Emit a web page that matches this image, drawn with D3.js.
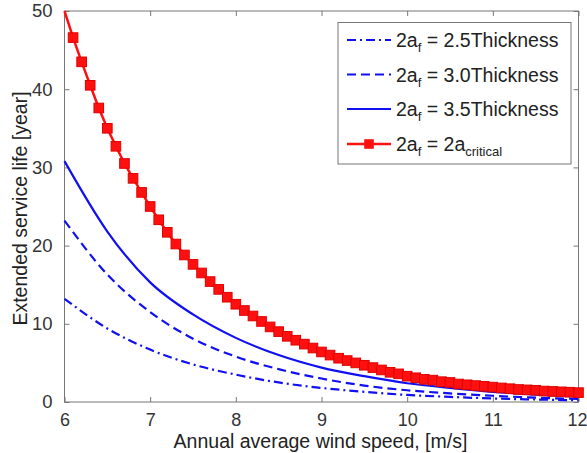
<!DOCTYPE html>
<html><head><meta charset="utf-8">
<script src="https://cdn.jsdelivr.net/npm/d3@7"></script>
<style>body{margin:0;background:#fff}svg{display:block}text{font-family:"Liberation Sans",Arial,sans-serif}</style>
</head><body><svg id="c" width="587" height="453"></svg>
<script>
const xTicks = [6,7,8,9,10,11,12];
const yTicks = [0,10,20,30,40,50];
const speedsFine = [6.0,6.1,6.2,6.3,6.4,6.5,6.6,6.7,6.8,6.9,7.0,7.1,7.2,7.3,7.4,7.5,7.6,7.7,7.8,7.9,8.0,8.1,8.2,8.3,8.4,8.5,8.6,8.7,8.8,8.9,9.0,9.1,9.2,9.3,9.4,9.5,9.6,9.7,9.8,9.9,10.0,10.1,10.2,10.3,10.4,10.5,10.6,10.7,10.8,10.9,11.0,11.1,11.2,11.3,11.4,11.5,11.6,11.7,11.8,11.9,12.0];
const lifeCritical = [50.0,46.6,43.5,40.5,37.6,35.0,32.7,30.5,28.6,26.8,25.0,23.3,21.7,20.2,18.8,17.6,16.5,15.4,14.4,13.4,12.5,11.7,11.0,10.3,9.6,9.0,8.4,7.9,7.4,6.9,6.4,6.0,5.6,5.3,5.0,4.7,4.4,4.1,3.8,3.6,3.3,3.1,2.9,2.8,2.6,2.5,2.3,2.2,2.1,2.0,1.9,1.8,1.7,1.6,1.55,1.5,1.4,1.35,1.3,1.25,1.2];
const speedsCoarse = [6,6.5,7,7.5,8,8.5,9,9.5,10,10.5,11,11.5,12];
const life35 = [30.8,21.8,15.3,11.2,8.2,6.0,4.4,3.3,2.4,1.8,1.3,0.95,0.7];
const life30 = [23.2,16.3,11.5,8.1,5.8,4.2,3.0,2.1,1.5,1.1,0.8,0.55,0.4];
const life25 = [13.2,9.4,6.7,4.8,3.5,2.5,1.8,1.3,0.9,0.65,0.45,0.32,0.22];
const legendLabels = [["2.5Thickness",null],["3.0Thickness",null],["3.5Thickness",null],["2a","critical"]];

const svg = d3.select("#c");
const L=64.5, R=578.5, T=11, B=402;
const x = d3.scaleLinear().domain([6,12]).range([L,R]);
const y = d3.scaleLinear().domain([0,50]).range([B,T]);

// box and ticks
const axisCol="#777";
svg.append("rect").attr("x",L).attr("y",T).attr("width",R-L).attr("height",B-T)
  .attr("fill","none").attr("stroke",axisCol).attr("stroke-width",1);
const bAx = svg.append("g").attr("transform",`translate(0,${B})`)
  .call(d3.axisBottom(x).tickValues(xTicks).tickSize(-5).tickPadding(11).tickFormat(d3.format("d")));
const tAx = svg.append("g").attr("transform",`translate(0,${T})`)
  .call(d3.axisTop(x).tickValues(xTicks).tickSize(-5).tickFormat(""));
const lAx = svg.append("g").attr("transform",`translate(${L},0)`)
  .call(d3.axisLeft(y).tickValues(yTicks).tickSize(-5).tickPadding(12).tickFormat(d3.format("d")));
const rAx = svg.append("g").attr("transform",`translate(${R},0)`)
  .call(d3.axisRight(y).tickValues(yTicks).tickSize(-5).tickFormat(""));
[bAx,tAx,lAx,rAx].forEach(g=>{
  g.select(".domain").remove();
  g.selectAll(".tick line").attr("stroke",axisCol);
  g.selectAll("text").attr("font-size",18.5).attr("fill","#333").attr("font-family","Liberation Sans, Arial, sans-serif");
});
bAx.selectAll(".tick text").attr("font-size",18);
bAx.selectAll(".tick text").filter(d=>d===12).attr("dx",-1.5);

// axis labels
svg.append("text").attr("x",(L+R)/2-1).attr("y",448).attr("text-anchor","middle")
  .attr("font-size",19.5).attr("fill","#222").text("Annual average wind speed, [m/s]");
svg.append("text").attr("transform",`translate(27,${(T+B)/2+2}) rotate(-90)`).attr("text-anchor","middle")
  .attr("font-size",19.5).attr("fill","#222").text("Extended service life [year]");

const blue="#1010f0", red="#ff1010";
const lineC = d3.line().x((d,i)=>x(speedsCoarse[i])).y(d=>y(d)).curve(d3.curveMonotoneX);
const styles = [
  {data:life25, dash:"9,4,2,4"},
  {data:life30, dash:"9,5"},
  {data:life35, dash:null}
];
styles.forEach(s=>{
  const p = svg.append("path").attr("d",lineC(s.data)).attr("fill","none")
    .attr("stroke",blue).attr("stroke-width",2.2);
  if(s.dash) p.attr("stroke-dasharray",s.dash);
});

const lineF = d3.line().x((d,i)=>x(speedsFine[i])).y(d=>y(d));
svg.append("path").attr("d",lineF(lifeCritical)).attr("fill","none").attr("stroke",red).attr("stroke-width",2.5);
svg.append("g").selectAll("rect").data(lifeCritical.map((v,i)=>[speedsFine[i],v]).slice(1)).join("rect")
  .attr("x",d=>x(d[0])-4.8).attr("y",d=>y(d[1])-4.8)
  .attr("width",9.6).attr("height",9.6).attr("fill",red).attr("stroke","#e00000").attr("stroke-width",1);

// legend
const lg = svg.append("g");
lg.append("rect").attr("x",338).attr("y",22.5).attr("width",233).attr("height",141.5)
  .attr("fill","#fff").attr("stroke",axisCol).attr("stroke-width",1);
const rowY = [40,74.5,109,144];
legendLabels.forEach((lab,i)=>{
  const yy = rowY[i];
  const ln = lg.append("line").attr("x1",347).attr("x2",391).attr("y1",yy).attr("y2",yy)
    .attr("stroke", i===3?red:blue).attr("stroke-width", i===3?2.5:2.2);
  if(i===0) ln.attr("stroke-dasharray","9,4,2,4");
  if(i===1) ln.attr("stroke-dasharray","9,5");
  if(i===3) lg.append("rect").attr("x",364.2).attr("y",yy-4.8).attr("width",9.6).attr("height",9.6).attr("fill",red);
  const t = lg.append("text").attr("x",396).attr("y",yy+7).attr("font-size",19.5).attr("fill","#222");
  t.append("tspan").text("2a");
  t.append("tspan").attr("font-size",13).attr("dy",5).text("f");
  t.append("tspan").attr("dy",-5).text(" = " + lab[0]);
  if(lab[1]) t.append("tspan").attr("font-size",13).attr("dy",5).text(lab[1]);
});
</script></body></html>
